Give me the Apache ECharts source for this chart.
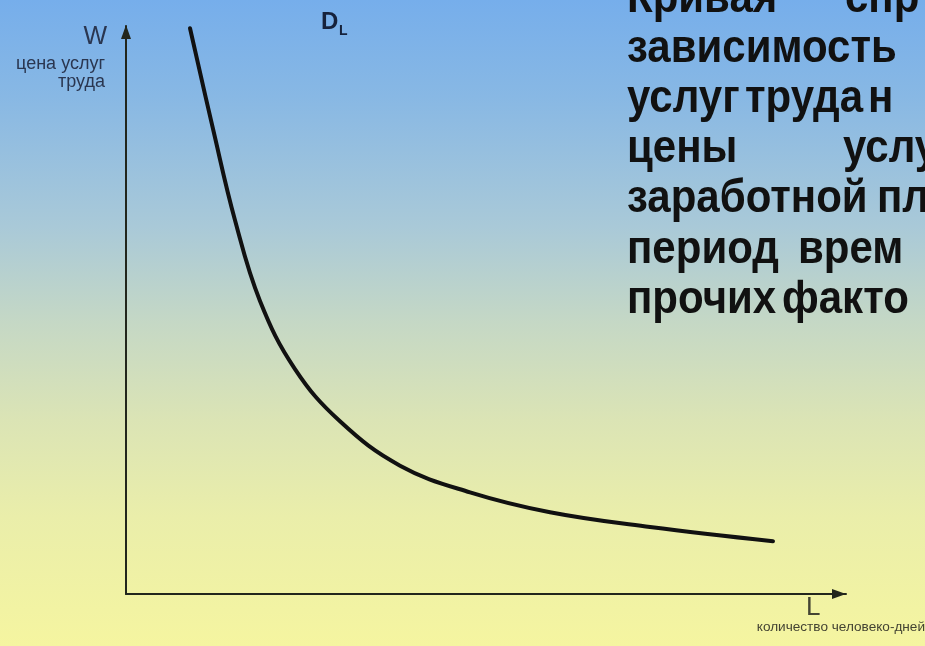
<!DOCTYPE html>
<html>
<head>
<meta charset="utf-8">
<script src="https://cdn.jsdelivr.net/npm/echarts@6/dist/echarts.min.js"></script>
<style>
html,body{margin:0;padding:0;width:925px;height:646px;overflow:hidden;}
#main{width:925px;height:646px;}
</style>
</head>
<body>
<div id="main"></div>
<script>
// Demand curve for labour D_L (relative units)
const laborQty = [8.89, 12.08, 15.14, 18.61, 23.47, 29.72, 38.06, 47.78, 58.89, 72.78, 89.86];
const wageLevel = [99.6, 81.9, 65.8, 51.6, 39.6, 30.4, 22.6, 17.9, 14.4, 11.8, 9.3];

// Axis labels
const yAxisSymbol = 'W';
const yAxisCaption = ['цена услуг', 'труда'];
const xAxisSymbol = 'L';
const xAxisCaption = 'количество человеко-дней';
const curveLabel = 'D';
const curveLabelSub = 'L';

// Justified text block on the right (cut off by the frame)
const textLines = [
  ['Кривая', 'спр'],
  ['зависимость'],
  ['услуг', 'труда', 'н'],
  ['цены', 'услу'],
  ['заработной', 'пл'],
  ['период', 'врем'],
  ['прочих', 'факто']
];
const textWordX = [
  [627, 845],
  [627],
  [627, 745, 868],
  [627, 843],
  [627, 877],
  [627, 798],
  [627, 782]
];
const textLineY = [-1, 49, 99, 149, 199, 250.5, 300.5];

const chart = echarts.init(document.getElementById('main'), null, {renderer: 'canvas'});

const graphics = [];
textLines.forEach(function (words, i) {
  words.forEach(function (w, j) {
    graphics.push({
      type: 'text', x: textWordX[i][j], y: textLineY[i], scaleY: 1.1, z: 10,
      style: {text: w, font: 'bold 42px "Liberation Sans", Arial, sans-serif', fill: '#111111', align: 'left', verticalAlign: 'middle'}
    });
  });
});
graphics.push(
  {type: 'text', x: 107, y: 37, z: 10, style: {text: yAxisSymbol, font: '25px "Liberation Sans", Arial, sans-serif', fill: '#2a3650', align: 'right', verticalAlign: 'middle'}},
  {type: 'text', x: 105, y: 64, z: 10, style: {text: yAxisCaption[0], font: '18px "Liberation Sans", Arial, sans-serif', fill: '#2a3650', align: 'right', verticalAlign: 'middle'}},
  {type: 'text', x: 105, y: 82, z: 10, style: {text: yAxisCaption[1], font: '18px "Liberation Sans", Arial, sans-serif', fill: '#2a3650', align: 'right', verticalAlign: 'middle'}},
  {type: 'text', x: 806, y: 608, z: 10, style: {text: xAxisSymbol, font: '26px "Liberation Sans", Arial, sans-serif', fill: '#444433', align: 'left', verticalAlign: 'middle'}},
  {type: 'text', x: 925, y: 627, z: 10, style: {text: xAxisCaption, font: '13.6px "Liberation Sans", Arial, sans-serif', fill: '#444433', align: 'right', verticalAlign: 'middle'}},
  {type: 'text', x: 321, y: 22, z: 10, style: {text: curveLabel, font: 'bold 24px "Liberation Sans", Arial, sans-serif', fill: '#16223c', align: 'left', verticalAlign: 'middle'}},
  {type: 'text', x: 339, y: 31, z: 10, style: {text: curveLabelSub, font: 'bold 14px "Liberation Sans", Arial, sans-serif', fill: '#16223c', align: 'left', verticalAlign: 'middle'}}
);

const axisLineStyle = {color: '#22261c', width: 2};

chart.setOption({
  animation: false,
  backgroundColor: {
    type: 'linear', x: 0, y: 0, x2: 0, y2: 1,
    colorStops: [
      {offset: 0, color: '#76aeeb'},
      {offset: 0.15, color: '#88b8e4'},
      {offset: 0.35, color: '#a9c9d8'},
      {offset: 0.5, color: '#c5d8c5'},
      {offset: 0.65, color: '#dbe4b5'},
      {offset: 0.8, color: '#eaeeaa'},
      {offset: 1, color: '#f5f5a0'}
    ]
  },
  grid: {left: 126, right: 79, top: 26, bottom: 52, containLabel: false},
  xAxis: {
    type: 'value', min: 0, max: 100,
    axisLine: {show: true, lineStyle: axisLineStyle, symbol: ['none', 'triangle'], symbolSize: [10, 14], symbolOffset: [0, -7]},
    axisTick: {show: false}, axisLabel: {show: false}, splitLine: {show: false}
  },
  yAxis: {
    type: 'value', min: 0, max: 100,
    axisLine: {show: true, onZero: false, lineStyle: axisLineStyle, symbol: ['none', 'triangle'], symbolSize: [10, 14], symbolOffset: [0, -6]},
    axisTick: {show: false}, axisLabel: {show: false}, splitLine: {show: false}
  },
  series: [{
    type: 'line',
    data: laborQty.map(function (x, i) { return [x, wageLevel[i]]; }),
    smooth: 0.4,
    showSymbol: false,
    lineStyle: {color: '#111111', width: 4, cap: 'round'},
    silent: true
  }],
  graphic: graphics
});
</script>
</body>
</html>
